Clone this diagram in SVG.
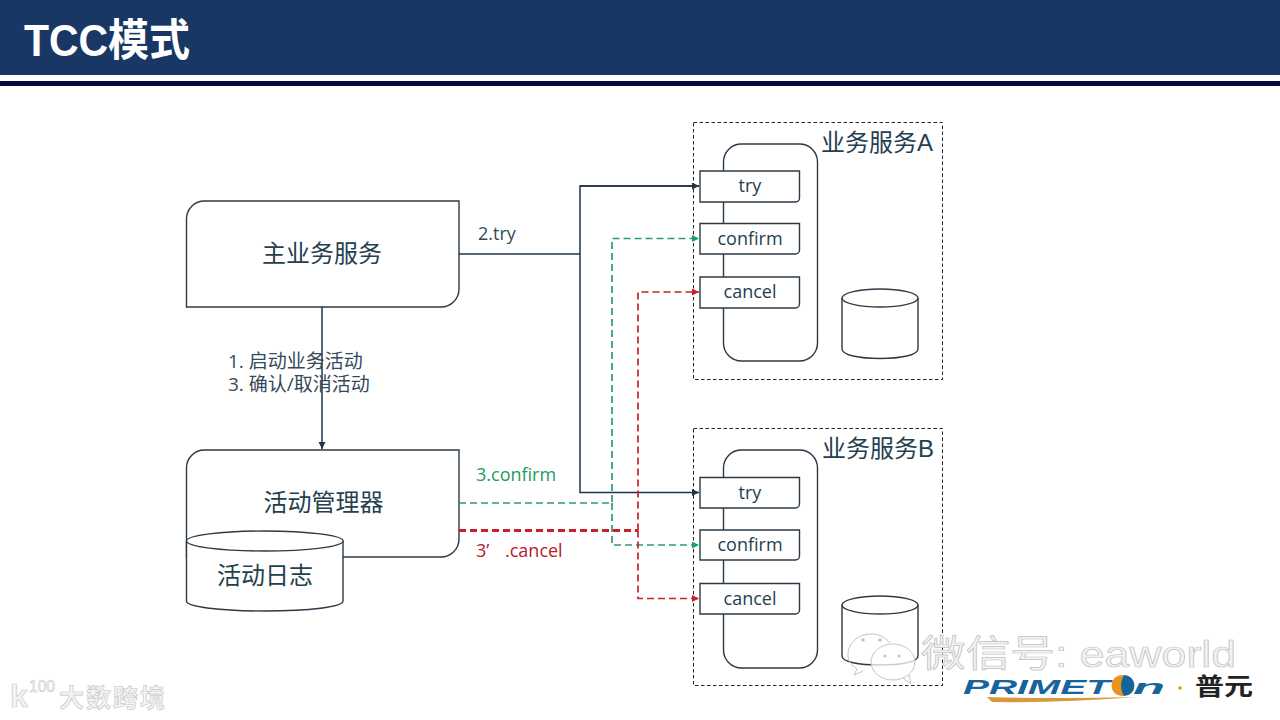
<svg xmlns="http://www.w3.org/2000/svg" width="1280" height="720" viewBox="0 0 1280 720">
<defs>
<marker id="aD" markerWidth="8" markerHeight="8" refX="7" refY="3.5" orient="auto" markerUnits="userSpaceOnUse"><path d="M0,0L7,3.5L0,7z" fill="#1f3347"/></marker>
<marker id="aG" markerWidth="8" markerHeight="8" refX="7" refY="3.5" orient="auto" markerUnits="userSpaceOnUse"><path d="M0,0L7,3.5L0,7z" fill="#1e9e6a"/></marker>
<marker id="aR" markerWidth="8" markerHeight="8" refX="7" refY="3.5" orient="auto" markerUnits="userSpaceOnUse"><path d="M0,0L7,3.5L0,7z" fill="#c8202c"/></marker>
</defs>
<style>
text{font-family:"Liberation Sans","Noto Sans CJK SC",sans-serif}
.s{fill:#fff;stroke:#2b3a46;stroke-width:1.4}
.t{fill:#24404f;font-size:24px;text-anchor:middle}
.m{fill:#24404f;font-size:18px;text-anchor:middle;font-family:"Open Sans","Noto Sans CJK SC",sans-serif}
.l{fill:#34495a;font-size:18px;font-family:"Open Sans","Noto Sans CJK SC",sans-serif}
.c{font-size:19px}
.dk{fill:none;stroke:#1f3347;stroke-width:1.5}
.gr{fill:none;stroke:#2a9d70;stroke-width:1.7;stroke-dasharray:7 4}
.rd{fill:none;stroke:#c8202c;stroke-width:1.7;stroke-dasharray:7 4}
.box{fill:#fff;stroke:#222;stroke-width:1;stroke-dasharray:3.500 2.500}
.wm{fill:#f4f4f4;stroke:#c4c4c4;stroke-width:.6}
</style>
<rect width="1280" height="720" fill="#fff"/>
<g id="header">
<rect width="1280" height="75" fill="#193764"/>
<rect y="81" width="1280" height="5" fill="#050a38"/>
<text x="24" y="56" font-size="44" font-weight="700" fill="#fff" textLength="166" lengthAdjust="spacingAndGlyphs">TCC模式</text>
</g>
<g id="serviceA">
<rect class="box" x="693.500" y="122.500" width="249" height="257"/>
<rect class="s" x="723.500" y="144" width="94" height="217" rx="18"/>
<text class="t" x="877" y="151">业务服务A</text>
</g>
<g id="serviceB">
<rect class="box" x="693.500" y="428.500" width="249" height="257"/>
<rect class="s" x="723.500" y="450" width="94" height="218" rx="18"/>
<text class="t" x="878" y="457">业务服务B</text>
</g>
<g id="main">
<path class="s" d="M186.500,307V219a18,18 0 0 1 18,-18H459V289a18,18 0 0 1 -18,18Z"/>
<text class="t" x="322" y="262">主业务服务</text>
</g>
<g id="manager">
<path class="s" d="M186.500,557V468a18,18 0 0 1 18,-18H459V539a18,18 0 0 1 -18,18Z"/>
<text class="t" x="323.500" y="511">活动管理器</text>
</g>
<g id="log">
<path class="s" d="M186.500,541V601C186.500,607 221,611 265,611S343,607 343,601V541"/>
<ellipse class="s" cx="264.800" cy="541" rx="78.300" ry="10"/>
<text class="t" x="265" y="584">活动日志</text>
</g>
<g id="dbA">
<path class="s" d="M842,298V349C842,355 859,358.500 880,358.500S918,355 918,349V298"/>
<ellipse class="s" cx="880" cy="298" rx="38" ry="9"/>
</g>
<g id="dbB">
<path class="s" d="M842,605V656C842,662 859,665 880,665S918,662 918,656V605"/>
<ellipse class="s" cx="880" cy="605" rx="38" ry="9"/>
</g>
<g id="connectors">
<path class="dk" d="M322,307V449" marker-end="url(#aD)"/>
<path class="dk" d="M459,254H580"/>
<path class="dk" d="M699,186H580V492.500H699" marker-end="url(#aD)"/>
<path class="dk" d="M580,186H699" marker-end="url(#aD)"/>
<path class="gr" d="M459,503H612V238.500H699" marker-end="url(#aG)"/>
<path class="gr" d="M612,503V545H699" marker-end="url(#aG)"/>
<path class="rd" d="M459,530.500H638" style="stroke-width:3;stroke-dasharray:7 4"/>
<path class="rd" d="M638,530.500V292H699" marker-end="url(#aR)"/>
<path class="rd" d="M638,530.500V598.500H699" marker-end="url(#aR)"/>
</g>
<g id="tryA"><path class="s" d="M700,171H799.500V198a4,4 0 0 1 -4,4H700Z"/><text class="m" x="750" y="192">try</text></g>
<g id="confirmA"><path class="s" d="M700,223.500H799.500V250a4,4 0 0 1 -4,4H700Z"/><text class="m" x="750" y="244.500">confirm</text></g>
<g id="cancelA"><path class="s" d="M700,277H799.500V304a4,4 0 0 1 -4,4H700Z"/><text class="m" x="750" y="298">cancel</text></g>
<g id="tryB"><path class="s" d="M700,477.500H799.500V504a4,4 0 0 1 -4,4H700Z"/><text class="m" x="750" y="498.500">try</text></g>
<g id="confirmB"><path class="s" d="M700,530H799.500V556a4,4 0 0 1 -4,4H700Z"/><text class="m" x="750" y="550.500">confirm</text></g>
<g id="cancelB"><path class="s" d="M700,583.500H799.500V610a4,4 0 0 1 -4,4H700Z"/><text class="m" x="750" y="604.500">cancel</text></g>
<g id="labels">
<text class="l" x="478" y="240">2.try</text>
<text class="l c" x="228" y="367.500">1. 启动业务活动</text>
<text class="l c" x="228" y="391">3. 确认/取消活动</text>
<text class="l" x="476" y="480.500" style="fill:#1f9a62">3.confirm</text>
<text class="l" x="476" y="556.500" style="fill:#b5202c">3’<tspan x="505">.cancel</tspan></text>
</g>
<g id="watermarks">
<g fill="none" stroke="#c4c4c4" stroke-width="1">
<path d="M871,634c-14,0 -23,10 -23,20c0,7 3,11 9,15l-3,6l9,-4"/>
<path d="M871,634c8,0 14,3 19,9"/>
<ellipse cx="893" cy="662" rx="22" ry="18" fill="#fff" fill-opacity=".75"/>
<path d="M903,678l8,6l-2,-9"/>
</g>
<g fill="#c4c4c4"><circle cx="863" cy="640" r="1.800"/><circle cx="880" cy="640" r="1.800"/><circle cx="885" cy="656" r="1.600"/><circle cx="899" cy="656" r="1.600"/></g>
<text x="921" y="667" font-size="37" fill="#f2f2f2" stroke="#c2c2c2" stroke-width=".7" textLength="315" lengthAdjust="spacingAndGlyphs">微信号: eaworld</text>
<text x="963" y="694" font-size="21" font-weight="700" font-style="italic" fill="#17639b" textLength="147" lengthAdjust="spacingAndGlyphs">PRIMET</text>
<circle cx="1122" cy="685.500" r="10.500" fill="#e8941e"/>
<path d="M1124,675a10.500,10.500 0 0 1 0,21c-4,-7 -4,-14 0,-21z" fill="#17639b"/>
<text x="1133" y="694" font-size="21" font-weight="700" font-style="italic" fill="#17639b" textLength="32" lengthAdjust="spacingAndGlyphs">n</text>
<path d="M987,697Q1060,699 1137,697Q1060,703 992,702Z" fill="#d9973e"/>
<circle cx="1180" cy="688" r="1.800" fill="#e8941e"/>
<text x="1195" y="695" font-size="24" font-weight="700" fill="#222" textLength="58" lengthAdjust="spacingAndGlyphs">普元</text>
<text x="10" y="707" font-size="32" font-weight="700" class="wm">k</text>
<text x="29" y="692" font-size="16" class="wm" style="stroke-width:.5" textLength="26" lengthAdjust="spacingAndGlyphs">100</text>
<text x="59" y="707" font-size="25" font-weight="700" class="wm" textLength="106">大数跨境</text>
</g>
</svg>
